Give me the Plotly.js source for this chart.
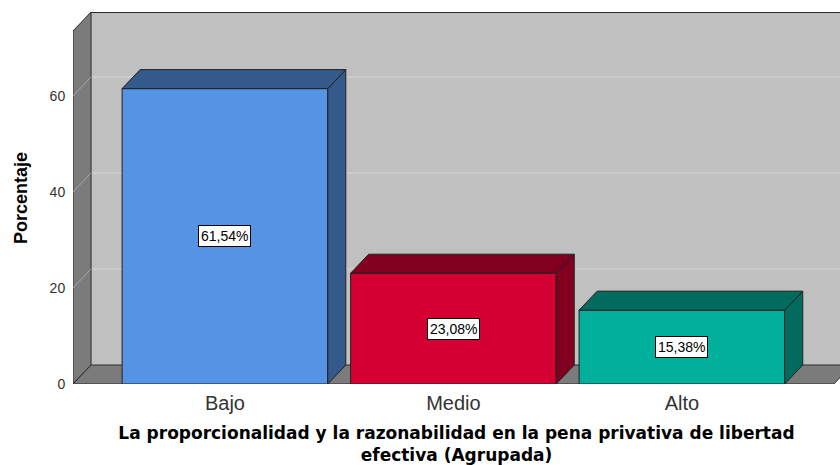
<!DOCTYPE html>
<html>
<head>
<meta charset="utf-8">
<script src="https://cdn.plot.ly/plotly-3.0.1.min.js"></script>
<style>html,body{margin:0;padding:0;background:#fff;}#chart{width:840px;height:465px;}</style>
</head>
<body>
<div id="chart"></div>
<script>
// ---- data ----
const categories = ['Bajo', 'Medio', 'Alto'];
const values = [61.54, 23.08, 15.38];
const yTickValues = [0, 20, 40, 60];
const frontColors = ['#5594e4', '#d50032', '#00b09c'];
const sideColors = ['#34598b', '#81001f', '#006b5e'];
const xTitle = 'La proporcionalidad y la razonabilidad en la pena privativa de libertad<br>efectiva (Agrupada)';
const yTitle = 'Porcentaje';

// ---- geometry (3D look) ----
const barWidth = 0.9;
const depthX = 0.079;   // depth offset in category units
const depthY = 3.96;    // depth offset in value units
const xLeft = -0.665, xRight = 2.665, xMax = 2.692;
const yMax = 77.5;
const edge = '#222222';

const idx = categories.map((_, i) => i);
const fmt = v => v.toFixed(2).replace('.', ',') + '%';

const traces = [];
// front faces
traces.push({
  type: 'bar', x: idx, y: values, width: barWidth,
  marker: {color: frontColors, line: {color: edge, width: 1}},
  hoverinfo: 'skip', showlegend: false
});
// side and top faces
values.forEach((v, i) => {
  const l = i - barWidth / 2, r = i + barWidth / 2;
  traces.push({
    type: 'scatter', mode: 'lines', fill: 'toself', fillcolor: sideColors[i],
    x: [r, r, r + depthX, r + depthX, r],
    y: [0, v, v + depthY, depthY, 0],
    line: {color: edge, width: 1}, hoverinfo: 'skip', showlegend: false
  });
  traces.push({
    type: 'scatter', mode: 'lines', fill: 'toself', fillcolor: sideColors[i],
    x: [l, r, r + depthX, l + depthX, l],
    y: [v, v, v + depthY, v + depthY, v],
    line: {color: edge, width: 1}, hoverinfo: 'skip', showlegend: false
  });
});

// ---- walls (decoration shapes below traces) ----
const P = (pts) => 'M ' + pts.map(p => p[0] + ',' + p[1]).join(' L ') + ' Z';
const shapes = [];
// back wall
shapes.push({type: 'rect', xref: 'x', yref: 'y', layer: 'below',
  x0: xLeft + depthX, x1: xMax + 1, y0: depthY, y1: yMax,
  fillcolor: '#c0c0c0', line: {width: 0}});
// gridlines on back wall
yTickValues.forEach(t => {
  shapes.push({type: 'path', xref: 'x', yref: 'y', layer: 'below',
    path: 'M ' + xLeft + ',' + t + ' L ' + (xLeft + depthX) + ',' + (t + depthY) + ' L ' + (xMax + 1) + ',' + (t + depthY),
    line: {color: '#d6d6d6', width: 1}});
});
// left wall
shapes.push({type: 'path', xref: 'x', yref: 'y', layer: 'below',
  path: P([[xLeft, 0], [xLeft, yMax - depthY], [xLeft + depthX, yMax], [xLeft + depthX, depthY]]),
  fillcolor: '#7b7b7b', line: {color: '#2a2a2a', width: 1}});
// floor
shapes.push({type: 'path', xref: 'x', yref: 'y', layer: 'below',
  path: P([[xLeft, 0], [xRight, 0], [xRight + depthX, depthY], [xLeft + depthX, depthY]]),
  fillcolor: '#7b7b7b', line: {color: '#2a2a2a', width: 1}});
// gridlines on left wall
yTickValues.forEach(t => {
  if (t === 0) return;
  shapes.push({type: 'line', xref: 'x', yref: 'y', layer: 'below',
    x0: xLeft, y0: t, x1: xLeft + depthX, y1: t + depthY,
    line: {color: '#a8a8a8', width: 1}});
});
// back wall top edge
shapes.push({type: 'line', xref: 'x', yref: 'y', layer: 'below',
  x0: xLeft + depthX, x1: xMax + 1, y0: yMax, y1: yMax, line: {color: '#2a2a2a', width: 2}});

// ---- labels ----
const annotations = values.map((v, i) => ({
  x: i, y: v / 2, xref: 'x', yref: 'y', text: fmt(v), showarrow: false,
  bgcolor: '#ffffff', bordercolor: '#000000', borderwidth: 1, borderpad: 2,
  font: {family: 'Liberation Sans, Arial, sans-serif', size: 14, color: '#000'}
}));

const layout = {
  width: 840, height: 465,
  margin: {l: 73, r: 0, t: 12, b: 81},
  paper_bgcolor: '#ffffff', plot_bgcolor: '#ffffff',
  font: {family: 'Liberation Sans, Arial, sans-serif', color: '#333'},
  showlegend: false,
  xaxis: {
    range: [xLeft, xMax], tickvals: idx, ticktext: categories,
    showgrid: false, zeroline: false, showline: false,
    ticks: '', ticklabelstandoff: 5,
    tickfont: {size: 20, color: '#333'}, automargin: false,
    title: {text: xTitle, standoff: 15,
      font: {family: 'DejaVu Sans, Verdana, sans-serif', size: 17, color: '#000', weight: 'bold'}}
  },
  yaxis: {
    range: [0, yMax], tickvals: yTickValues,
    showgrid: false, zeroline: false, showline: false,
    ticks: 'outside', ticklen: 4, tickcolor: 'rgba(0,0,0,0)',
    tickfont: {size: 14, color: '#333'}, automargin: false,
    title: {text: yTitle, standoff: 17,
      font: {size: 18, color: '#000', weight: 'bold'}}
  },
  shapes: shapes,
  annotations: annotations
};

Plotly.newPlot('chart', traces, layout, {displayModeBar: false, staticPlot: true});
</script>
</body>
</html>
